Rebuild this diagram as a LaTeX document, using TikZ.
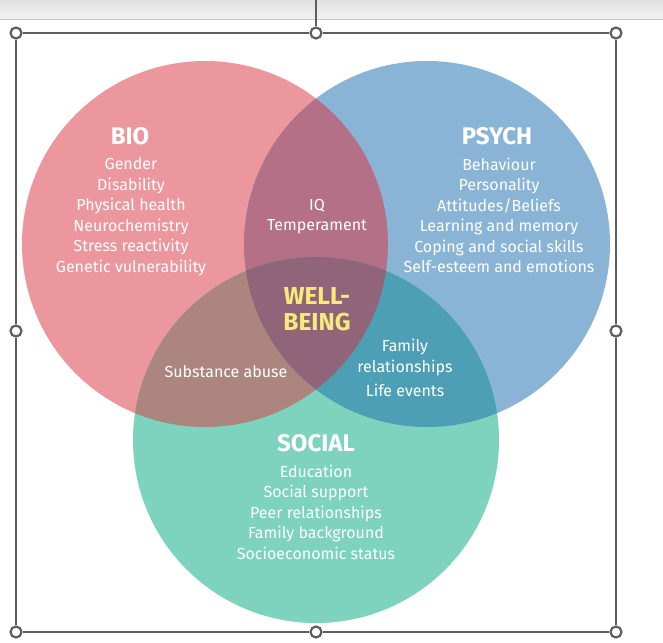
\documentclass[tikz,border=0pt]{standalone}
\usepackage{fontspec}
\setmainfont{Fira Sans}
\definecolor{bioC}{HTML}{EC979E}
\definecolor{psyC}{HTML}{8AB4D6}
\definecolor{socC}{HTML}{7DD3BD}
\definecolor{bpC}{HTML}{B37087}
\definecolor{bsC}{HTML}{AD857F}
\definecolor{psC}{HTML}{4D9FB5}
\definecolor{allC}{HTML}{906579}
\definecolor{wellC}{HTML}{F7E97C}
\definecolor{frameC}{HTML}{5E5E5E}
\tikzset{
  head/.style={text=white,font=\fontsize{24}{26}\selectfont\bfseries,inner sep=0pt},
  item/.style={text=white,font=\fontsize{16}{20.5}\selectfont,align=center,inner sep=0pt},
  well/.style={text=wellC,font=\fontsize{24.5}{26}\selectfont\bfseries,align=center,inner sep=0pt},
  handle/.style={circle,draw=frameC,fill=white,line width=2.2pt,minimum size=11pt,inner sep=0pt},
  selframe/.style={draw=frameC,line width=1.1pt}
}
\begin{document}
\begin{tikzpicture}[x=1pt,y=-1pt]
\useasboundingbox (0,0) rectangle (663,642);
\fill[white] (0,0) rectangle (663,642);
% top toolbar strip
\shade[top color=black!12,bottom color=black!5] (0,0) rectangle (663,19);
\draw[black!22,line width=0.8pt] (0,19) -- (663,19);
% circles
\def\bio{(205,244) circle[radius=183pt]}
\def\psy{(427,244) circle[radius=183pt]}
\def\soc{(316,440) circle[radius=183pt]}
\fill[bioC] \bio;
\fill[psyC] \psy;
\fill[socC] \soc;
\begin{scope}\clip \bio; \fill[bpC] \psy; \end{scope}
\begin{scope}\clip \bio; \fill[bsC] \soc; \end{scope}
\begin{scope}\clip \psy; \fill[psC] \soc; \end{scope}
\begin{scope}\clip \bio; \clip \psy; \fill[allC] \soc; \end{scope}
% texts
\node[head] (bioh) at (130,136) {BIO};
\node[item,anchor=north] (bioi) at (131,157.5) {Gender\\Disability\\Physical health\\Neurochemistry\\Stress reactivity\\Genetic vulnerability};
\node[head] (psyh) at (497,136) {PSYCH};
\node[item,anchor=north] (psyi) at (499,157.5) {Behaviour\\Personality\\Attitudes/Beliefs\\Learning and memory\\Coping and social skills\\Self-esteem and emotions};
\node[item,anchor=north] (bp) at (317,199) {IQ\\Temperament};
\node[well] (wb) at (317,309) {WELL-\\BEING};
\node[item] (bs) at (226,372) {Substance abuse};
\node[item,anchor=north] (ps) at (405,339) {Family\\relationships};
\node[item] (ps2) at (405,390) {Life events};
\node[head] (soch) at (316,443) {SOCIAL};
\node[item,anchor=north] (soci) at (316,464.5) {Education\\Social support\\Peer relationships\\Family background\\Socioeconomic status};
% selection frame
\coordinate (top) at (316,0);
\node[handle] (h1) at (16,33) {};
\node[handle] (h2) at (316,33) {};
\node[handle] (h3) at (616,33) {};
\node[handle] (h4) at (616,331) {};
\node[handle] (h5) at (616,632) {};
\node[handle] (h6) at (316,632) {};
\node[handle] (h7) at (16,632) {};
\node[handle] (h8) at (16,331) {};
\draw[selframe] (top) -- (h2);
\draw[selframe] (h1) -- (h2);
\draw[selframe] (h2) -- (h3);
\draw[selframe] (h3) -- (h4);
\draw[selframe] (h4) -- (h5);
\draw[selframe] (h5) -- (h6);
\draw[selframe] (h6) -- (h7);
\draw[selframe] (h7) -- (h8);
\draw[selframe] (h8) -- (h1);
\end{tikzpicture}
\end{document}
